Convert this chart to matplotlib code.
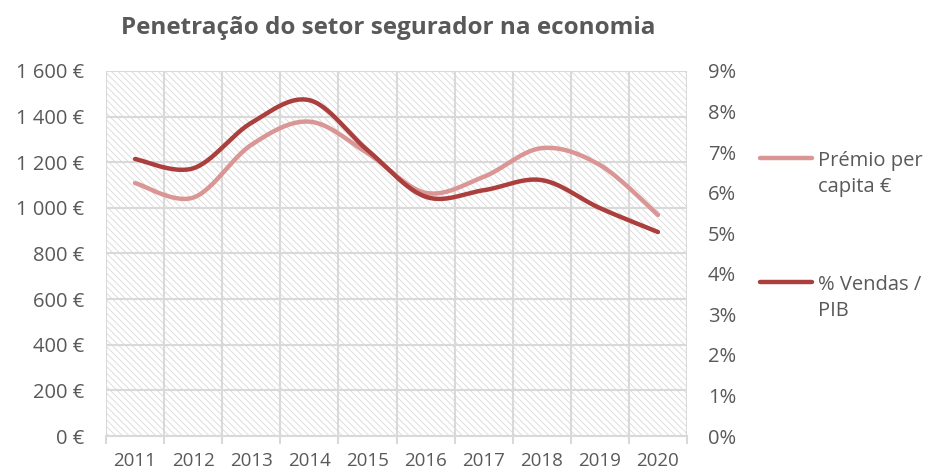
import numpy as np
import matplotlib
matplotlib.use("Agg")
import matplotlib.pyplot as plt
from matplotlib.patches import Rectangle
from matplotlib.lines import Line2D
from matplotlib.ticker import FuncFormatter

years = ["2011", "2012", "2013", "2014", "2015", "2016", "2017", "2018", "2019", "2020"]
premio_per_capita = [1109, 1045, 1276, 1378, 1240, 1066, 1136, 1262, 1188, 969]
vendas_pib = [6.83, 6.60, 7.72, 8.28, 7.05, 5.90, 6.06, 6.31, 5.62, 5.03]

label_premio = "Prémio per\ncapita €"
label_vendas = "% Vendas /\nPIB"
title = "Penetração do setor segurador na economia"

C_LIGHT = "#d99694"
C_DARK = "#ab3f3d"
GRID = "#d9d9d9"
TXT = "#595959"
FONT = "Open Sans"

plt.rcParams["font.family"] = [FONT, "DejaVu Sans"]
plt.rcParams["hatch.linewidth"] = 0.6
plt.rcParams["hatch.color"] = "#d9d9d9"


def smooth(y, n=30):
    # Excel-style smoothed line (Catmull-Rom as cubic Bezier) through the points
    x = np.arange(len(y), dtype=float)
    y = np.asarray(y, dtype=float)
    P = np.column_stack([x, y])
    out = []
    for i in range(len(P) - 1):
        p0 = P[i - 1] if i > 0 else P[i]
        p1 = P[i]
        p2 = P[i + 1]
        p3 = P[i + 2] if i + 2 < len(P) else P[i + 1]
        c1 = p1 + (p2 - p0) / 6
        c2 = p2 - (p3 - p1) / 6
        t = np.linspace(0, 1, n)[:, None]
        seg = ((1 - t) ** 3) * p1 + 3 * ((1 - t) ** 2) * t * c1 + 3 * (1 - t) * t ** 2 * c2 + t ** 3 * p2
        out.append(seg if i == 0 else seg[1:])
    s = np.vstack(out)
    return s[:, 0], s[:, 1]


fig = plt.figure(figsize=(9.28, 4.72), dpi=100)
ax = fig.add_axes([106 / 928, 36 / 472, 581 / 928, 365 / 472])
ax2 = ax.twinx()

ax.set_facecolor("white")
bg = Rectangle((0, 0), 1, 1, transform=ax.transAxes, facecolor="white",
               edgecolor="#d9d9d9", hatch="\\\\\\\\\\", linewidth=0, zorder=0)
ax.add_patch(bg)

n = len(years)
ax.set_xlim(-0.5, n - 0.5)
ax.set_ylim(0, 1600)
ax.set_yticks(np.arange(0, 1601, 200))
ax.yaxis.set_major_formatter(FuncFormatter(lambda v, p: f"{int(v):,}".replace(",", " ") + " €"))
ax2.set_ylim(0, 9)
ax2.set_yticks(np.arange(0, 10, 1))
ax2.yaxis.set_major_formatter(FuncFormatter(lambda v, p: f"{int(v)}%"))

ax.set_xticks(np.arange(n))
ax.set_xticklabels(years)
ax.set_xticks(np.arange(-0.5, n, 1), minor=True)

ax.grid(True, axis="y", color=GRID, linewidth=1.5)
ax.grid(True, axis="x", which="minor", color=GRID, linewidth=1.5)

for a in (ax, ax2):
    for s in a.spines.values():
        s.set_visible(False)
ax.spines["bottom"].set_visible(True)
ax.spines["bottom"].set_color(GRID)
ax.spines["bottom"].set_linewidth(1.5)

ax.tick_params(axis="x", which="major", length=0, pad=11.5, labelsize=13.5, labelcolor=TXT)
ax.tick_params(axis="x", which="minor", length=6, width=1.5, color=GRID)
ax.tick_params(axis="y", length=0, pad=16, labelsize=14.5, labelcolor=TXT)
ax2.tick_params(axis="y", length=0, pad=15, labelsize=14.5, labelcolor=TXT)

xs, ys = smooth(premio_per_capita)
ax.plot(xs, ys, color=C_LIGHT, linewidth=3.2, solid_capstyle="round", zorder=3)
xs2, ys2 = smooth(vendas_pib)
ax2.plot(xs2, ys2, color=C_DARK, linewidth=3.2, solid_capstyle="round", zorder=4)

fig.text(388 / 928, 1 - 28 / 472, title, ha="center", va="center",
         fontsize=17.5, fontweight="bold", color=TXT)

# legend
for yy, col, lab in [(158, C_LIGHT, label_premio), (282, C_DARK, label_vendas)]:
    fig.add_artist(Line2D([760 / 928, 812 / 928], [1 - yy / 472] * 2, color=col,
                          linewidth=3.2, solid_capstyle="round", transform=fig.transFigure))
    fig.text(818 / 928, 1 - (yy + 16) / 472, lab, ha="left", va="center",
             fontsize=14.5, color=TXT, linespacing=1.45)

fig.savefig("out.png", dpi=100)
